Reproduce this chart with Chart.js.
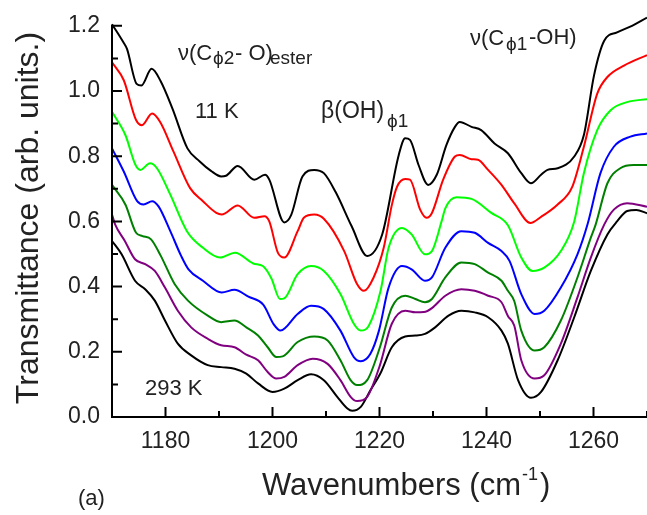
<!doctype html>
<html lang="en">
<head>
<meta charset="utf-8">
<title>Transmittance spectra 11 K - 293 K</title>
<style>
  * { margin: 0; padding: 0; }
  body { background: #fff; width: 647px; height: 515px; overflow: hidden; }
</style>
</head>
<body>
<canvas id="myChart" width="647" height="515"></canvas>
<script src="https://cdn.jsdelivr.net/npm/chart.js"></script>
<script>
// spectra, [wavenumber, transmittance]
const black11K = [[1170,1.205],[1172.1,1.150],[1172.8,1.129],[1174.6,1.022],[1175.5,1.017],[1177.4,1.068],[1179.1,1.030],[1181.3,0.946],[1184.1,0.824],[1186.4,0.784],[1188.5,0.755],[1190.4,0.738],[1191.3,0.740],[1193.5,0.770],[1196.6,0.728],[1198.6,0.743],[1199.4,0.728],[1202.2,0.597],[1203.5,0.620],[1205.6,0.738],[1207.8,0.758],[1209.6,0.748],[1211.8,0.690],[1214.8,0.585],[1217.7,0.494],[1220.5,0.560],[1223.6,0.804],[1224.8,0.855],[1225.7,0.850],[1227.3,0.773],[1229.1,0.712],[1230.7,0.743],[1232.5,0.834],[1234.1,0.890],[1235.0,0.905],[1237.2,0.890],[1239.0,0.880],[1241.5,0.839],[1244.0,0.809],[1246.5,0.748],[1248.3,0.717],[1250.2,0.743],[1251.4,0.758],[1253.3,0.763],[1256.4,0.799],[1258.2,0.865],[1260.1,1.048],[1262.0,1.154],[1264.4,1.180],[1267.2,1.200],[1270,1.225]];
const red = [[1170,1.088],[1172.2,1.033],[1174.5,0.911],[1175.6,0.895],[1177.5,0.931],[1179.0,0.905],[1181.5,0.814],[1184.6,0.702],[1187.0,0.662],[1189.5,0.626],[1190.5,0.621],[1193.5,0.649],[1196.6,0.611],[1198.5,0.616],[1199.4,0.600],[1201.0,0.504],[1202.2,0.489],[1204.7,0.570],[1205.9,0.612],[1207.8,0.621],[1209.6,0.608],[1213.4,0.509],[1215.8,0.408],[1217.1,0.387],[1218.9,0.428],[1220.8,0.520],[1222.3,0.650],[1223.3,0.707],[1224.8,0.730],[1225.7,0.728],[1227.6,0.636],[1228.8,0.611],[1229.8,0.626],[1231.9,0.728],[1234.1,0.799],[1235.0,0.804],[1237.2,0.791],[1238.4,0.789],[1240.3,0.758],[1242.8,0.712],[1245.2,0.655],[1248.2,0.595],[1250.2,0.614],[1253.3,0.652],[1256.0,0.705],[1258.2,0.829],[1260.7,0.992],[1262.6,1.043],[1265.7,1.078],[1270,1.110]];
const lime = [[1170,0.936],[1172.5,0.865],[1174.4,0.773],[1175.3,0.758],[1177.1,0.778],[1178.4,0.763],[1180.9,0.682],[1184.0,0.570],[1187.0,0.519],[1190.2,0.489],[1193.0,0.504],[1196.4,0.471],[1198.2,0.463],[1199.8,0.425],[1201.4,0.362],[1202.2,0.364],[1204.7,0.438],[1207.2,0.463],[1209.6,0.448],[1212.7,0.377],[1215.2,0.286],[1216.5,0.265],[1218.0,0.280],[1220.2,0.387],[1221.7,0.519],[1224.2,0.580],[1226.0,0.560],[1228.5,0.499],[1229.8,0.509],[1231.6,0.600],[1232.3,0.640],[1234.4,0.674],[1237.2,0.669],[1240.9,0.626],[1244.0,0.588],[1246.5,0.489],[1248.6,0.448],[1250.8,0.458],[1253.9,0.509],[1256.4,0.600],[1258.2,0.748],[1260.7,0.880],[1263.2,0.941],[1266.3,0.966],[1270,0.975]];
const blue = [[1170,0.824],[1172.2,0.753],[1174.7,0.662],[1175.9,0.652],[1177.5,0.662],[1178.7,0.646],[1180.9,0.570],[1182.9,0.495],[1184.3,0.453],[1187.0,0.418],[1190.5,0.382],[1192.9,0.390],[1195.5,0.369],[1198.3,0.344],[1200.2,0.285],[1201.5,0.265],[1204.7,0.316],[1207.2,0.341],[1209.6,0.331],[1212.7,0.265],[1215.2,0.184],[1216.5,0.171],[1218.3,0.194],[1219.9,0.265],[1221.7,0.397],[1224.2,0.463],[1226.0,0.453],[1228.5,0.418],[1229.8,0.428],[1232.3,0.519],[1235.3,0.570],[1237.8,0.565],[1240.3,0.534],[1242.8,0.509],[1244.3,0.479],[1246.5,0.377],[1249.0,0.316],[1250.8,0.326],[1253.9,0.397],[1257.0,0.499],[1258.9,0.592],[1261.3,0.748],[1263.8,0.829],[1266.9,0.860],[1270,0.870]];
const darkGreen = [[1170,0.712],[1172.5,0.652],[1174.5,0.565],[1175.7,0.555],[1177.3,0.545],[1179.1,0.495],[1181.7,0.408],[1184.2,0.357],[1187.9,0.311],[1190.4,0.291],[1192.9,0.296],[1195.1,0.275],[1197.3,0.250],[1199.1,0.214],[1200.7,0.184],[1201.9,0.186],[1204.7,0.230],[1207.8,0.247],[1210.3,0.235],[1212.7,0.174],[1214.6,0.113],[1215.8,0.098],[1217.7,0.113],[1220.0,0.210],[1222.3,0.336],[1224.8,0.372],[1226.7,0.362],[1228.5,0.352],[1229.8,0.362],[1232.3,0.428],[1235.3,0.474],[1237.8,0.469],[1240.3,0.443],[1242.8,0.418],[1244.0,0.387],[1245.2,0.355],[1246.5,0.265],[1249.0,0.204],[1250.8,0.214],[1253.9,0.296],[1257.0,0.428],[1259.5,0.550],[1260.4,0.590],[1262.6,0.717],[1265.0,0.763],[1267.5,0.773],[1270,0.773]];
const purple = [[1170,0.621],[1170.6,0.590],[1172.4,0.540],[1174.3,0.484],[1176.2,0.469],[1178.0,0.448],[1179.9,0.397],[1182.3,0.326],[1184.8,0.275],[1187.9,0.240],[1190.4,0.220],[1192.9,0.214],[1195.1,0.191],[1197.3,0.174],[1199.1,0.138],[1200.7,0.118],[1202.2,0.123],[1204.7,0.159],[1207.5,0.179],[1210.3,0.163],[1212.7,0.113],[1214.6,0.062],[1215.8,0.049],[1217.7,0.062],[1220.0,0.155],[1222.3,0.286],[1224.8,0.326],[1226.7,0.321],[1228.3,0.322],[1229.8,0.334],[1232.3,0.372],[1235.3,0.392],[1237.8,0.387],[1240.3,0.372],[1242.8,0.352],[1244.0,0.310],[1245.2,0.280],[1246.5,0.174],[1249.0,0.118],[1250.8,0.128],[1253.9,0.225],[1257.0,0.367],[1259.5,0.489],[1262.0,0.590],[1263.8,0.636],[1266.3,0.656],[1270,0.645]];
const black293K = [[1170,0.540],[1171.8,0.499],[1174.3,0.418],[1176.2,0.392],[1178.0,0.357],[1179.9,0.296],[1182.3,0.225],[1184.8,0.189],[1187.9,0.159],[1190.4,0.153],[1192.9,0.148],[1195.1,0.133],[1197.3,0.103],[1200.0,0.077],[1202.2,0.087],[1204.7,0.113],[1207.2,0.131],[1209.6,0.113],[1212.1,0.062],[1214.0,0.026],[1214.9,0.019],[1216.5,0.031],[1218.3,0.082],[1220.2,0.135],[1222.3,0.214],[1224.8,0.247],[1226.7,0.250],[1228.5,0.255],[1230.4,0.275],[1232.9,0.311],[1235.3,0.326],[1237.8,0.321],[1240.3,0.306],[1242.8,0.265],[1244.0,0.225],[1245.9,0.113],[1248.3,0.059],[1250.2,0.077],[1253.3,0.174],[1256.4,0.306],[1259.5,0.448],[1262.6,0.560],[1264.4,0.600],[1266.3,0.632],[1268.0,0.635],[1270,0.625]];

const xTicks = [1180, 1200, 1220, 1240, 1260];
const yTicks = [0, 0.2, 0.4, 0.6, 0.8, 1.0, 1.2];

const FONT = "'Liberation Sans', Arial, sans-serif";
const TXT = '#222';

function series(points, color) {
  return {
    data: points.map(p => ({ x: p[0], y: p[1] })),
    borderColor: color,
    borderWidth: 2,
    pointRadius: 0,
    showLine: true,
    fill: false,
    cubicInterpolationMode: 'monotone',
    clip: false
  };
}

// draw text pieces at fixed spots: [text, x, baseline, size]
function pieces(ctx, list) {
  list.forEach(p => {
    ctx.font = p[3] + 'px ' + FONT;
    ctx.fillText(p[0], p[1], p[2]);
  });
}

const frame = {
  id: 'frame',
  afterDraw(chart) {
    const { ctx, chartArea: a, scales: { x, y } } = chart;
    ctx.save();
    ctx.strokeStyle = '#000';
    ctx.lineWidth = 2;
    ctx.beginPath();
    ctx.moveTo(a.left, a.top - 1);
    ctx.lineTo(a.left, a.bottom);
    ctx.lineTo(a.right + 2, a.bottom);
    for (let v = 1170; v <= 1270; v += 10) {
      const px = x.getPixelForValue(v);
      const len = v % 20 === 0 ? 10 : 6;
      ctx.moveTo(px, a.bottom);
      ctx.lineTo(px, a.bottom - len);
    }
    for (let i = 0; i <= 12; i++) {
      const py = y.getPixelForValue(i / 10);
      const len = i % 2 === 0 ? 10 : 6;
      ctx.moveTo(a.left, py);
      ctx.lineTo(a.left + len, py);
    }
    ctx.stroke();

    ctx.fillStyle = TXT;
    ctx.textAlign = 'left';
    ctx.textBaseline = 'alphabetic';

    // axis titles
    ctx.font = '31px ' + FONT;
    let tx = 262;
    ctx.fillText('Wavenumbers (cm', tx, 495);
    tx += ctx.measureText('Wavenumbers (cm').width + 1;
    ctx.font = '18px ' + FONT;
    ctx.fillText('-1', tx, 480);
    tx += ctx.measureText('-1').width + 2;
    ctx.font = '31px ' + FONT;
    ctx.fillText(')', tx, 495);

    ctx.save();
    ctx.translate(38, 218);
    ctx.rotate(-Math.PI / 2);
    ctx.font = '32px ' + FONT;
    ctx.textAlign = 'center';
    ctx.fillText('Transmittance (arb. units.)', 0, 0);
    ctx.restore();

    // band labels
    pieces(ctx, [
      ['ν(C', 178, 60, 22], ['ϕ2', 213, 64, 19], ['- O)', 235, 60, 22], ['ester', 270, 64, 19],
      ['11 K', 195, 118, 22],
      ['β(OH)', 321, 118, 23], ['ϕ1', 387, 127, 19],
      ['ν(C', 470, 45, 22], ['ϕ1', 506, 50, 19], ['-OH)', 529, 44, 22],
      ['293 K', 145, 395, 22],
      ['(a)', 78, 505, 22]
    ]);
    ctx.restore();
  }
};

const config = {
  type: 'scatter',
  data: {
    datasets: [
      series(black11K, '#000000'),
      series(red, '#ff0000'),
      series(lime, '#00ff00'),
      series(blue, '#0000ff'),
      series(darkGreen, '#008000'),
      series(purple, '#800080'),
      series(black293K, '#000000')
    ]
  },
  options: {
    responsive: false,
    animation: false,
    events: [],
    layout: { padding: { top: 23, right: 0, bottom: 0, left: 0 } },
    plugins: { legend: { display: false }, tooltip: { enabled: false } },
    scales: {
      x: {
        type: 'linear', min: 1170, max: 1270,
        afterBuildTicks: s => { s.ticks = xTicks.map(v => ({ value: v })); },
        afterFit: s => { s.height = 98; },
        grid: { display: false, drawTicks: false },
        border: { display: false },
        ticks: { font: { size: 23, family: FONT }, color: TXT, padding: 11, maxRotation: 0, autoSkip: false, callback: v => String(v) }
      },
      y: {
        type: 'linear', min: 0, max: 1.2,
        afterBuildTicks: s => { s.ticks = yTicks.map(v => ({ value: v })); },
        afterFit: s => { s.width = 112; },
        grid: { display: false, drawTicks: false },
        border: { display: false },
        ticks: { font: { size: 23, family: FONT }, color: TXT, padding: 12, callback: v => v.toFixed(1) }
      }
    }
  },
  plugins: [frame]
};

const myChart = new Chart(document.getElementById('myChart'), config);
</script>
</body>
</html>
